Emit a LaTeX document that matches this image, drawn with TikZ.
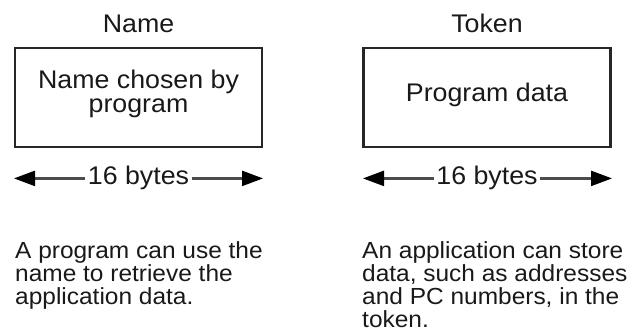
\documentclass[tikz,border=0pt]{standalone}
\usepackage{fontspec}
\setmainfont[FakeStretch=1.05]{Liberation Sans}
\usetikzlibrary{arrows.meta}
\begin{document}
\begin{tikzpicture}[x=1pt,y=-1pt,
  boxstyle/.style={draw=black!85, line width=2.2pt, minimum width=247pt, minimum height=99pt, inner sep=0pt},
  lbl/.style={font=\fontsize{25.5}{23.5}\selectfont, inner sep=0pt, text=black!90},
  body/.style={font=\fontsize{23.3}{23}\selectfont, inner sep=0pt, align=left, anchor=north west, text=black!90},
  dim/.style={line width=2.4pt, draw=black!70, -{Triangle[length=21pt 0,width=15pt 0,color=black]}}
]
\useasboundingbox (0,0) rectangle (630,334);
% titles
\node[lbl, anchor=base] (tname) at (138.5,33) {Name};
\node[lbl, anchor=base] (ttoken) at (487,33) {Token};
% boxes
\node[boxstyle] (bname) at (138.5,97.5) {};
\node[boxstyle] (btoken) at (487,97.5) {};
\node[lbl, align=center] (xname) at (138.5,94) {Name chosen by\\program};
\node[lbl, anchor=base] (xtoken) at (487,102) {Program data};
% dimensions
\node[lbl, anchor=base, inner xsep=2.5pt] (dname) at (138.5,185) {16 bytes};
\node[lbl, anchor=base, inner xsep=2.5pt] (dtoken) at (487,185) {16 bytes};
\coordinate (la) at (14,178);
\coordinate (ra) at (263,178);
\coordinate (lb) at (363,178);
\coordinate (rb) at (612,178);
\draw[dim] (dname.west) -- (dname.west -| la);
\draw[dim] (dname.east) -- (dname.east -| ra);
\draw[dim] (dtoken.west) -- (dtoken.west -| lb);
\draw[dim] (dtoken.east) -- (dtoken.east -| rb);
% descriptions
\node[body] (pname) at (15,241.9) {A program can use the\\name to retrieve the\\application data.};
\node[body] (ptoken) at (362,241.9) {An application can store\\data, such as addresses\\and PC numbers, in the\\token.};
\end{tikzpicture}
\end{document}
